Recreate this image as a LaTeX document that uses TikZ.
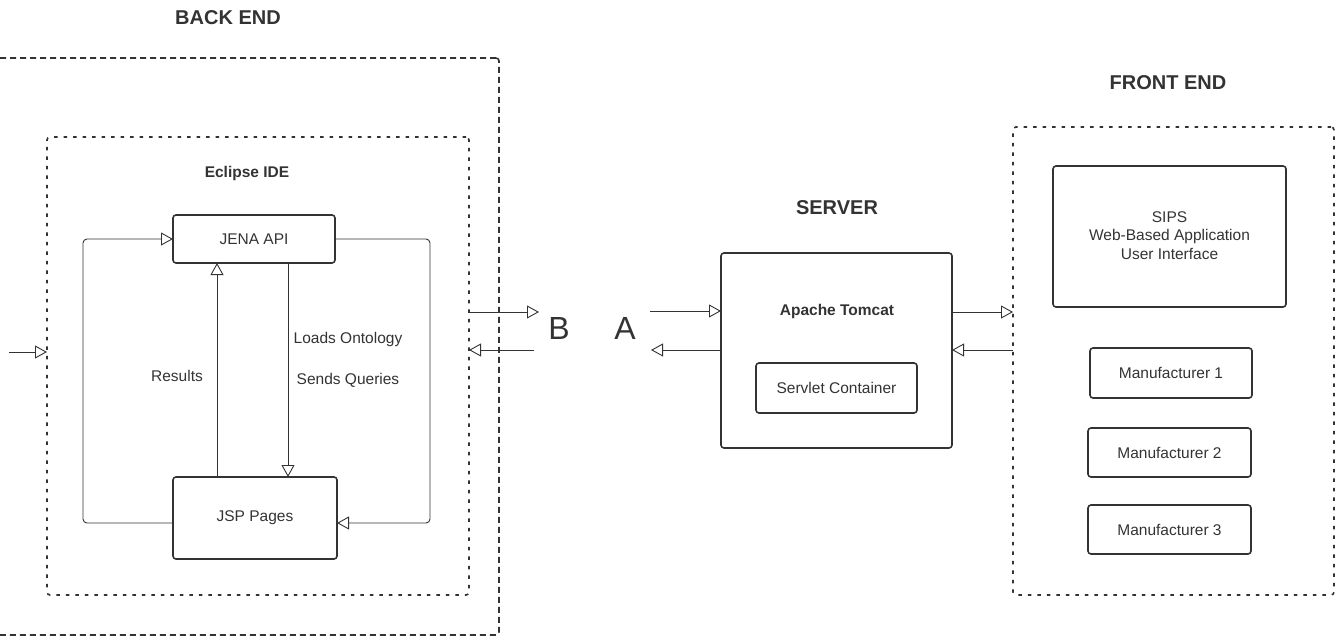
\documentclass[tikz,border=0pt]{standalone}
\usepackage{fontspec}
\setmainfont{Liberation Sans}
\usetikzlibrary{arrows.meta}
\definecolor{ink}{HTML}{333333}
\begin{document}
\begin{tikzpicture}[x=1pt,y=-1pt,
  every node/.style={text=ink, font=\fontsize{15.5}{18.5}\selectfont, inner sep=0pt, outer sep=0pt},
  solidbox/.style={draw=ink, line width=1.6pt, rounded corners=3pt, align=center},
  outerzone/.style={draw=ink, line width=1.6pt, rounded corners=3pt, dash pattern=on 6pt off 4pt},
  innerzone/.style={draw=ink, line width=1.6pt, rounded corners=3pt, dash pattern=on 3.5pt off 6pt},
  conn/.style={draw=ink, line width=0.9pt, rounded corners=4pt},
  tip/.style={-{Triangle[open, length=12pt, width=13pt, fill=white]}},
  title/.style={font=\fontsize{20}{24}\selectfont\bfseries, text=ink},
  boldlbl/.style={font=\fontsize{15.5}{18.5}\selectfont\bfseries},
  biglbl/.style={font=\fontsize{32}{36}\selectfont}
]
\useasboundingbox (0,0) rectangle (1336,637);
\clip (0,0) rectangle (1336,637);

% zones
\node[outerzone, minimum width=519, minimum height=577] (backend) at (239.5,346.5) {};
\node[innerzone, minimum width=422, minimum height=458] (eclipse) at (258,366) {};
\node[innerzone, minimum width=321, minimum height=468] (front) at (1173.5,361) {};

% titles
\node[title] (tBack) at (228,18) {BACK END};
\node[title] (tServer) at (837,208) {SERVER};
\node[title] (tFront) at (1168,83) {FRONT END};
\node[boldlbl] (tEclipse) at (247,173) {Eclipse IDE};

% back end boxes
\node[solidbox, minimum width=162, minimum height=48] (jena) at (254,239) {JENA API};
\node[solidbox, minimum width=164, minimum height=82] (jsp) at (255,518) {JSP Pages};

% server
\node[solidbox, minimum width=231, minimum height=195] (server) at (836.5,350.5) {};
\node[boldlbl] (tTomcat) at (837,311) {Apache Tomcat};
\node[solidbox, minimum width=161, minimum height=50] (servlet) at (836.5,388) {Servlet Container};

% front end
\node[solidbox, minimum width=233, minimum height=141] (sips) at (1169.5,236.5) {};
\node (sipsT1) at (1169.5,217) {SIPS};
\node (sipsT2) at (1169.5,236) {Web-Based Application};
\node (sipsT3) at (1169.5,254) {User Interface};
\node[solidbox, minimum width=162, minimum height=50] (m1) at (1171,373) {Manufacturer 1};
\node[solidbox, minimum width=163, minimum height=49] (m2) at (1169.5,452.5) {Manufacturer 2};
\node[solidbox, minimum width=163, minimum height=49] (m3) at (1169.5,529.5) {Manufacturer 3};

% labels B / A
\node[biglbl] (B) at (559,328) {B};
\node[biglbl] (A) at (625,328) {A};

% inner loops
\draw[conn, tip] ([yshift=-5pt]jsp.west) -- (83,523) -- (83,239) -- (jena.west);
\draw[conn, tip] (jena.east) -- (430,239) -- (430,523) -- ([yshift=-5pt]jsp.east);
\draw[conn, tip] ([xshift=-38pt]jsp.north) -- ([xshift=-37pt]jena.south);
\draw[conn, tip] ([xshift=34pt]jena.south) -- ([xshift=33pt]jsp.north);
\node (lLoads) at (348,339) {Loads Ontology};
\node (lSends) at (348,380) {Sends Queries};
\node (lResults) at (177,376) {Results};

% free ends
\coordinate (inL) at (9,352);
\coordinate (bTop) at (539,312);
\coordinate (bBot) at (534,350);
\coordinate (aTop) at (650,311);
\coordinate (aBot) at (651,350);
\coordinate (fTop) at (1000,312);
\coordinate (fBot) at (1000,350);

\draw[conn, tip] (inL) -- (eclipse.west |- inL);
\draw[conn, tip] (eclipse.east |- bTop) -- (bTop);
\draw[conn, tip] (bBot) -- (eclipse.east |- bBot);
\draw[conn, tip] (aTop) -- (server.west |- aTop);
\draw[conn, tip] (server.west |- aBot) -- (aBot);
\draw[conn, tip] (server.east |- fTop) -- (front.west |- fTop);
\draw[conn, tip] (front.west |- fBot) -- (server.east |- fBot);
\end{tikzpicture}
\end{document}
